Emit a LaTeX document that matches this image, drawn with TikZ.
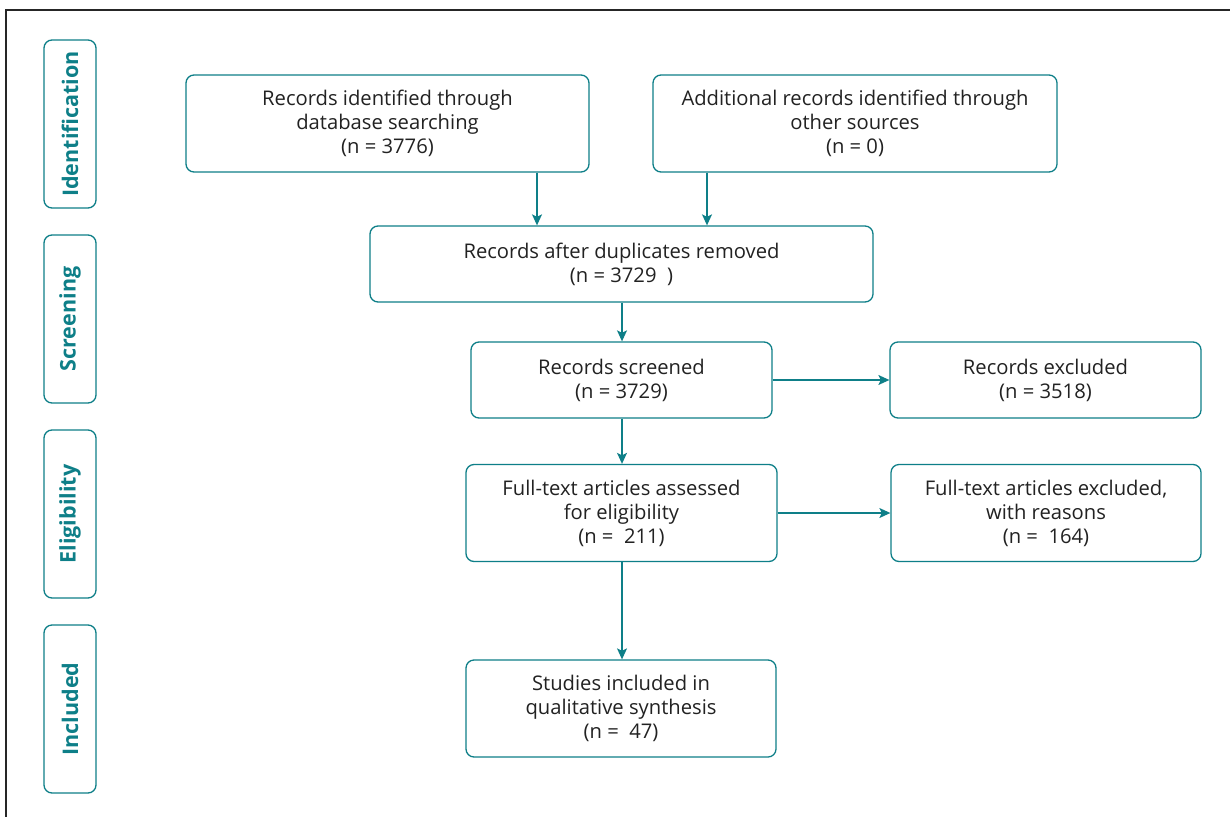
\documentclass[tikz,border=0pt]{standalone}
\usepackage{fontspec}
\setmainfont{Open Sans}
\usetikzlibrary{arrows.meta}
\definecolor{teal1}{HTML}{0E7F88}
\definecolor{txt}{HTML}{222222}
\begin{document}
\begin{tikzpicture}[x=1pt,y=-1pt,
  box/.style={draw=teal1,line width=1.3pt,rounded corners=8pt,align=center,text=txt,
    font=\fontsize{20.2}{24}\selectfont,inner sep=0pt},
  side/.style={draw=teal1,line width=1.3pt,rounded corners=8pt,minimum width=52pt,minimum height=168pt,inner sep=0pt},
  sidetext/.style={rotate=90,text=teal1,font=\bfseries\fontsize{21.5}{24}\selectfont},
  arr/.style={draw=teal1,line width=1.3pt,-{Stealth[length=11pt,width=10pt,inset=2.5pt]}}]
\useasboundingbox (0,0) rectangle (1230,816);
\fill[white] (0,0) rectangle (1230,816);
\draw[line width=1.5pt,color=black!85] (6,820) -- (6,10) -- (1235,10);
% side labels
\node[side] (s1) at (70,124) {};
\node[sidetext] (t1) at (s1.center) {Identification};
\node[side] (s2) at (70,319) {};
\node[sidetext] (t2) at (s2.center) {Screening};
\node[side] (s3) at (70,514) {};
\node[sidetext] (t3) at (s3.center) {Eligibility};
\node[side] (s4) at (70,709) {};
\node[sidetext] (t4) at (s4.center) {Included};
% main boxes
\node[box,minimum width=403pt,minimum height=97pt] (A) at (387.5,123.5) {Records identified through\\database searching\\(n = 3776)};
\node[box,minimum width=404pt,minimum height=97pt] (B) at (855,123.5) {Additional records identified through\\other sources\\(n = 0)};
\node[box,minimum width=503pt,minimum height=76pt] (C) at (621.5,264) {Records after duplicates removed\\(n = 3729~~)};
\node[box,minimum width=301pt,minimum height=76pt] (D) at (621.5,380) {Records screened\\(n = 3729)};
\node[box,minimum width=311pt,minimum height=76pt] (E) at (1045.5,380) {Records excluded\\(n = 3518)};
\node[box,minimum width=311pt,minimum height=97pt] (F) at (621.5,513) {Full-text articles assessed\\for eligibility\\(n = ~211)};
\node[box,minimum width=310pt,minimum height=97pt] (G) at (1046,513) {Full-text articles excluded,\\with reasons\\(n = ~164)};
\node[box,minimum width=310pt,minimum height=97pt] (H) at (621,708.5) {Studies included in\\qualitative synthesis\\(n = ~47)};
% connectors
\coordinate (ax) at (537,0);
\coordinate (bx) at (707,0);
\coordinate (cx) at (622,0);
\draw[arr] (A.south -| ax) -- (C.north -| ax);
\draw[arr] (B.south -| bx) -- (C.north -| bx);
\draw[arr] (C.south -| cx) -- (D.north -| cx);
\draw[arr] (D.east) -- (E.west);
\draw[arr] (D.south -| cx) -- (F.north -| cx);
\draw[arr] (F.east) -- (G.west);
\draw[arr] (F.south -| cx) -- (H.north -| cx);
\end{tikzpicture}
\end{document}
